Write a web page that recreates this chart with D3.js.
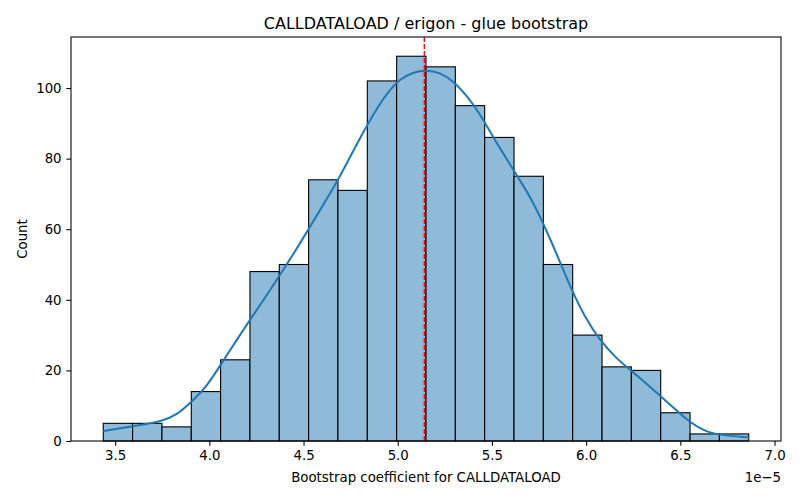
<!DOCTYPE html>
<html>
<head>
<meta charset="utf-8">
<script src="https://cdn.jsdelivr.net/npm/d3@7"></script>
<style>
  body { margin: 0; background: #fff; }
  svg { font-family: "DejaVu Sans", sans-serif; }
</style>
</head>
<body>
<script>
// bins (units of 1e-5)
binStart = 3.437;
binWidth = 0.15573;
counts = [5, 5, 4, 14, 23, 48, 50, 74, 71, 102, 109, 106, 95, 86, 75, 50, 30, 21, 20, 8, 2, 2];

// kde curve (x in 1e-5, y in counts)
kdeX = [3.437, 3.597, 3.747, 3.827, 3.906, 3.986, 4.065, 4.145, 4.224, 4.304, 4.374, 4.454, 4.524, 4.604, 4.683, 4.79, 4.905, 4.958, 5.011, 5.081, 5.152, 5.223, 5.293, 5.364, 5.435, 5.505, 5.576, 5.647, 5.700, 5.770, 5.850, 5.921, 5.992, 6.071, 6.160, 6.239, 6.319, 6.398, 6.478, 6.557, 6.637, 6.707, 6.863];
kdeY = [2.8, 4.25, 5.5, 7.4, 11.1, 15.4, 22.0, 28.6, 35.0, 41.2, 47, 53.6, 59.8, 66.9, 73.8, 85, 95.7, 99.4, 102.5, 104.5, 105.1, 104.4, 102.1, 98, 92.8, 86.2, 80.1, 73.9, 69.5, 62.0, 52.2, 43.0, 35.2, 28.6, 23.4, 19.9, 16.3, 12.5, 8.8, 5, 2.6, 1.7, 1.0];

meanValue = 5.141;
xTicks = [3.5, 4.0, 4.5, 5.0, 5.5, 6.0, 6.5, 7.0];
yTicks = [0, 20, 40, 60, 80, 100];

const W = 800, H = 500;
const m = {left: 71, right: 19, top: 37, bottom: 59};

const svg = d3.select('body').append('svg')
    .attr('width', W).attr('height', H);

const binEnd = binStart + binWidth * counts.length;
const pad = (binEnd - binStart) * 0.05;
const x = d3.scaleLinear()
    .domain([binStart - pad, binEnd + pad])
    .range([m.left, W - m.right]);
const y = d3.scaleLinear()
    .domain([0, d3.max(counts) * 1.05])
    .range([H - m.bottom, m.top]);

const g = svg.append('g');

g.selectAll('rect.bar')
    .data(counts)
    .join('rect')
    .attr('class', 'bar')
    .attr('x', (d, i) => x(binStart + i * binWidth))
    .attr('width', x(binStart + binWidth) - x(binStart))
    .attr('y', d => y(d))
    .attr('height', d => y(0) - y(d))
    .attr('fill', '#8fbbd9')
    .attr('stroke', '#000')
    .attr('stroke-width', 1.1);

const line = d3.line()
    .x((d, i) => x(kdeX[i]))
    .y(d => y(d))
    .curve(d3.curveBasis);

g.append('path')
    .datum(kdeY)
    .attr('d', line)
    .attr('fill', 'none')
    .attr('stroke', '#1f77b4')
    .attr('stroke-width', 2);

g.append('line')
    .attr('x1', x(meanValue)).attr('x2', x(meanValue))
    .attr('y1', y.range()[1]).attr('y2', y.range()[0])
    .attr('stroke', 'red')
    .attr('stroke-width', 1.33)
    .attr('stroke-dasharray', '4.9,2.1');

// axes
const xAxis = svg.append('g')
    .attr('transform', `translate(0,${H - m.bottom})`)
    .call(d3.axisBottom(x).tickValues(xTicks).tickFormat(d3.format('.1f')).tickSize(4.7).tickPadding(4.7));
const yAxis = svg.append('g')
    .attr('transform', `translate(${m.left},0)`)
    .call(d3.axisLeft(y).tickValues(yTicks).tickSize(4.7).tickPadding(4.7));

[xAxis, yAxis].forEach(a => {
    a.select('.domain').remove();
    a.selectAll('text').attr('font-size', 13.33).attr('fill', '#000').attr('font-family', 'DejaVu Sans');
    a.selectAll('line').attr('stroke', '#000').attr('stroke-width', 1.07);
});

svg.append('rect')
    .attr('x', m.left).attr('y', m.top)
    .attr('width', W - m.left - m.right)
    .attr('height', H - m.top - m.bottom)
    .attr('fill', 'none')
    .attr('stroke', '#000')
    .attr('stroke-width', 1.07);

svg.append('text')
    .attr('x', (m.left + W - m.right) / 2).attr('y', 29)
    .attr('text-anchor', 'middle')
    .attr('font-size', 16)
    .text('CALLDATALOAD / erigon - glue bootstrap');

svg.append('text')
    .attr('x', (m.left + W - m.right) / 2).attr('y', 482)
    .attr('text-anchor', 'middle')
    .attr('font-size', 13.33)
    .text('Bootstrap coefficient for CALLDATALOAD');

svg.append('text')
    .attr('x', W - m.right).attr('y', 482)
    .attr('text-anchor', 'end')
    .attr('font-size', 13.33)
    .text('1e\u22125');

svg.append('text')
    .attr('transform', `translate(27,${(m.top + H - m.bottom) / 2}) rotate(-90)`)
    .attr('text-anchor', 'middle')
    .attr('font-size', 13.33)
    .text('Count');
</script>
</body>
</html>
